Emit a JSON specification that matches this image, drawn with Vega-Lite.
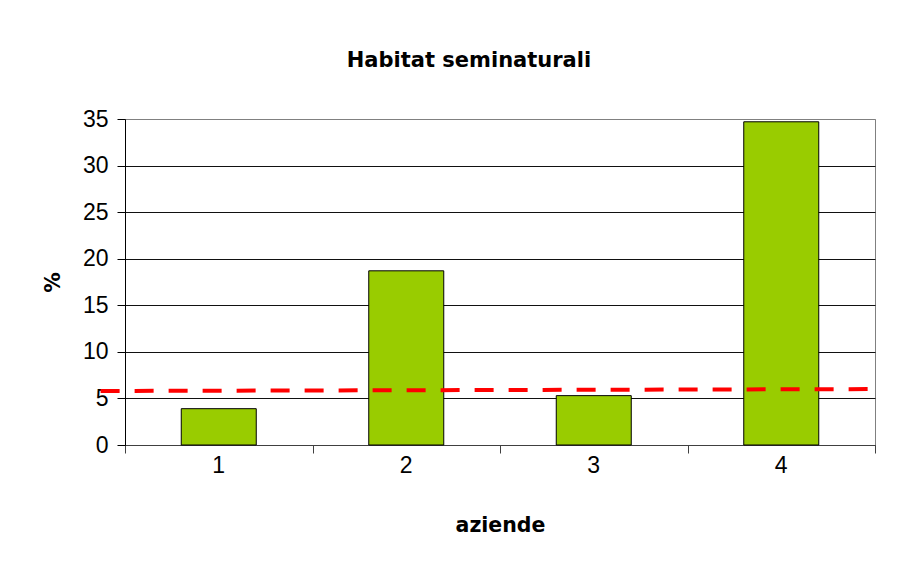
{
  "$schema": "https://vega.github.io/schema/vega-lite/v6.json",
  "width": 750,
  "height": 326,
  "autosize": {"type": "none"},
  "padding": {"left": 125, "top": 119, "right": 33, "bottom": 118},
  "background": "white",
  "title": {
    "text": "Habitat seminaturali",
    "font": "DejaVu Sans",
    "fontSize": 21,
    "fontWeight": "bold",
    "color": "black",
    "anchor": "middle",
    "dx": -31,
    "offset": 37
  },
  "config": {
    "view": {"stroke": "#808080", "strokeWidth": 1},
    "axis": {
      "labelFont": "Liberation Sans",
      "titleFont": "DejaVu Sans",
      "labelColor": "black",
      "titleColor": "black"
    }
  },
  "datasets": {
    "bars": [
      {"azienda": "1", "pct": 3.9},
      {"azienda": "2", "pct": 18.7},
      {"azienda": "3", "pct": 5.3},
      {"azienda": "4", "pct": 34.7}
    ],
    "trend": [
      {"pos": 0.37, "val": 5.8},
      {"pos": 4.47, "val": 6.0}
    ]
  },
  "layer": [
    {
      "data": {"name": "bars"},
      "mark": {"type": "bar", "fill": "#99CC00", "stroke": "black", "strokeWidth": 1},
      "encoding": {
        "x": {
          "field": "azienda",
          "type": "nominal",
          "scale": {"paddingInner": 0.6, "paddingOuter": 0.3},
          "axis": {
            "orient": "bottom",
            "title": "aziende",
            "titleFontSize": 20.5,
            "titleFontWeight": "bold",
            "titlePadding": 38,
            "labelAngle": 0,
            "labelFontSize": 23,
            "labelPadding": 9,
            "ticks": false,
            "tickSize": 0,
            "domain": false,
            "grid": false
          }
        },
        "y": {
          "field": "pct",
          "type": "quantitative",
          "scale": {"domain": [0, 35], "nice": false},
          "axis": {
            "title": "%",
            "titleFontSize": 20.5,
            "titleFontWeight": "bold",
            "titlePadding": 19,
            "values": [0, 5, 10, 15, 20, 25, 30, 35],
            "labelFontSize": 23,
            "labelPadding": 9,
            "tickSize": 8,
            "tickColor": "black",
            "domainColor": "black",
            "grid": true,
            "gridColor": {"condition": {"test": "datum.value === 35", "value": "#808080"}, "value": "#111111"},
            "gridOpacity": 1,
            "gridWidth": 1
          }
        }
      }
    },
    {
      "data": {"name": "trend"},
      "mark": {"type": "line", "color": "#FF0000", "strokeWidth": 4, "strokeDash": [19, 15]},
      "encoding": {
        "x": {
          "field": "pos",
          "type": "quantitative",
          "scale": {"domain": [0.5, 4.5], "nice": false, "zero": false},
          "axis": {
            "orient": "bottom",
            "values": [0.5, 1.5, 2.5, 3.5, 4.5],
            "labels": false,
            "title": null,
            "grid": false,
            "ticks": true,
            "tickSize": 8,
            "tickColor": "#404040",
            "domain": true,
            "domainColor": "#404040"
          }
        },
        "y": {"field": "val", "type": "quantitative"}
      }
    }
  ],
  "resolve": {"scale": {"x": "independent"}}
}
